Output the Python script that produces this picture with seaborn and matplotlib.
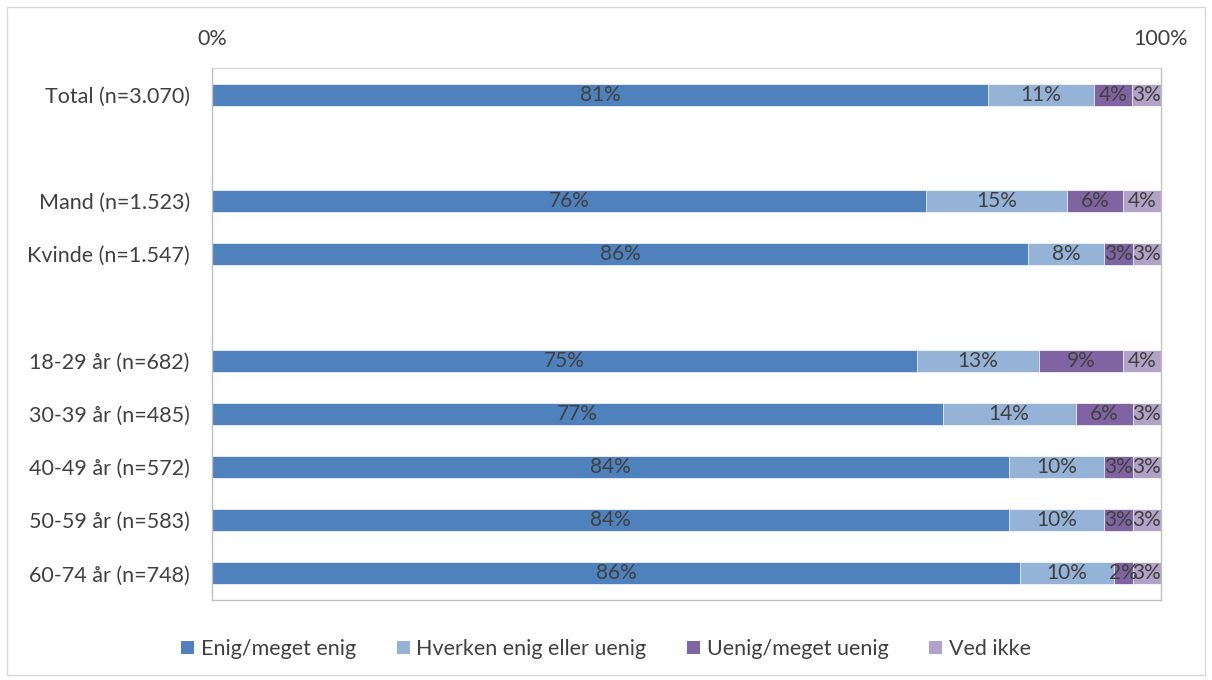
import matplotlib
matplotlib.use("Agg")
import matplotlib.pyplot as plt
from matplotlib.patches import Rectangle, Patch
import numpy as np
import pandas as pd
import seaborn as sns

# Survey groups (blank entries are spacer rows between the blocks)
groups = ["Total (n=3.070)", "", "Mand (n=1.523)", "Kvinde (n=1.547)", " ",
          "18-29 år (n=682)", "30-39 år (n=485)", "40-49 år (n=572)",
          "50-59 år (n=583)", "60-74 år (n=748)"]
data_groups = ["Total (n=3.070)", "Mand (n=1.523)", "Kvinde (n=1.547)",
               "18-29 år (n=682)", "30-39 år (n=485)", "40-49 år (n=572)",
               "50-59 år (n=583)", "60-74 år (n=748)"]

answers = ["Enig/meget enig", "Hverken enig eller uenig",
           "Uenig/meget uenig", "Ved ikke"]
enig = [81, 76, 86, 75, 77, 84, 84, 86]
hverken = [11, 15, 8, 13, 14, 10, 10, 10]
uenig = [4, 6, 3, 9, 6, 3, 3, 2]
ved_ikke = [3, 4, 3, 4, 3, 3, 3, 3]

colors = ["#4F81BD", "#95B3D7", "#8064A2", "#B3A2C7"]
text_color = "#404040"
fs = 15.5

sns.set_theme(style="white")
plt.rcParams["font.family"] = ["Lato", "DejaVu Sans"]

values = np.array([enig, hverken, uenig, ved_ikke], dtype=float)
shares = values / values.sum(axis=0) * 100  # 100% stacked
cum = np.cumsum(shares, axis=0)

df = pd.DataFrame({"group": data_groups})
for i, a in enumerate(answers):
    df[f"cum{i}"] = cum[i]

fig = plt.figure(figsize=(12.12, 6.8), dpi=100)
ax = fig.add_axes([212 / 1212, 1 - 600 / 680, (1161 - 212) / 1212, (600 - 68) / 680])

# draw cumulative bars from the widest to the narrowest so they stack visually
for i in reversed(range(len(answers))):
    sns.barplot(data=df, x=f"cum{i}", y="group", order=groups, orient="h",
                color=colors[i], width=0.41, ax=ax, saturation=1,
                edgecolor="white", linewidth=0.5)

# segment labels
ypos = {g: k for k, g in enumerate(groups)}
for j, g in enumerate(data_groups):
    left = 0.0
    for i in range(len(answers)):
        w = shares[i, j]
        ax.text(left + w / 2, ypos[g], f"{int(values[i, j])}%", ha="center",
                va="center", color=text_color, fontsize=fs - 0.5)
        left += w

ax.set_xlim(0, 100)
ax.set_ylim(len(groups) - 0.5, -0.5)
ax.set_xlabel("")
ax.set_ylabel("")
ax.xaxis.tick_top()
ax.set_xticks([0, 100])
ax.set_xticklabels(["0%", "100%"])
ax.tick_params(axis="x", length=0, pad=14, labelsize=fs, labelcolor=text_color)
ax.tick_params(axis="y", length=0, pad=16, labelsize=fs, labelcolor=text_color)
for s in ax.spines.values():
    s.set_visible(True)
    s.set_color("#BFBFBF")
    s.set_linewidth(1.0)
ax.spines["top"].set_color("#D9D9D9")

handles = [Patch(facecolor=c, edgecolor="none") for c in colors]
fig.legend(handles, answers, loc="center", bbox_to_anchor=(0.5, 1 - 649 / 680),
           ncol=4, frameon=False, fontsize=fs, handlelength=0.6,
           handleheight=0.6, handletextpad=0.3, columnspacing=1.9,
           labelcolor=text_color)

# outer chart border
fig.patches.append(Rectangle((7 / 1212, 5 / 680), 1198 / 1212, 668 / 680,
                             transform=fig.transFigure, fill=False,
                             edgecolor="#D9D9D9", linewidth=1.0))

fig.savefig("out.png", dpi=100)
